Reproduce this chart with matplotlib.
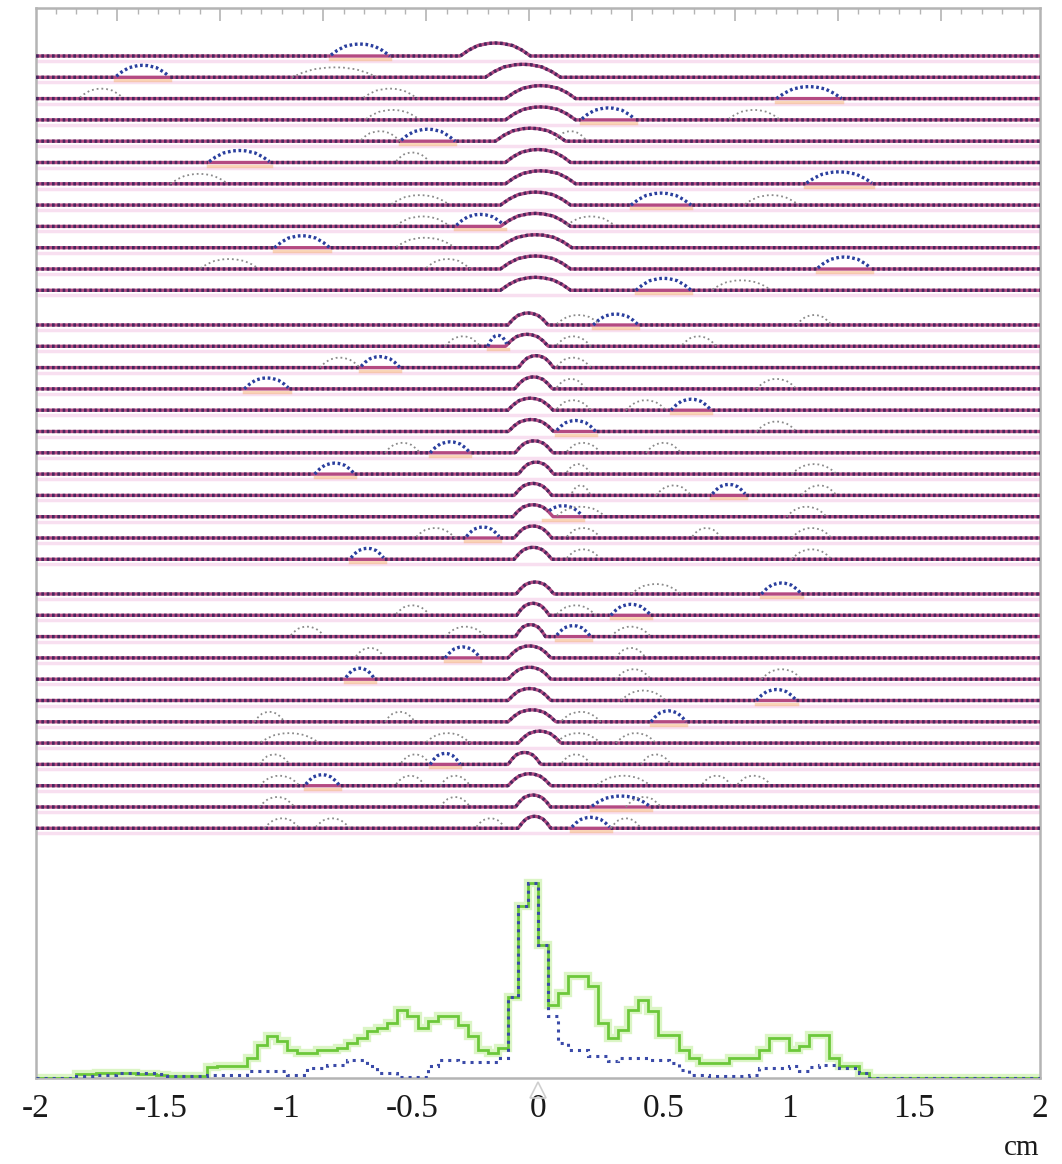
"""
Event display: stacked per-event strip traces (top) with summed hit
histograms along x (bottom).
"""
import numpy as np
import matplotlib
matplotlib.use("Agg")
import matplotlib.pyplot as plt

RED = "#b44a82"
NAVY = "#46285f"
BLUE = "#2a3f9e"
GREY = "#8a8a8a"
PINK = "#f8dff0"
GREEN = "#6cc83a"
GREEN_GLOW = "#cdf2ad"
HIST_BLUE = "#3a4aa8"
FRAME = "#b4b4b4"
SERIF = ["Liberation Serif", "DejaVu Serif"]

# ── bottom histograms (bins of 0.04 cm from -2 to 2) ─────────────────────────
BIN_LO, BIN_WIDTH = -2.0, 0.04
green_counts = [0, 0, 0, 0, 4, 4, 5, 5, 5, 5, 4, 4, 3, 2, 2, 2, 2, 11, 12, 12,
                12, 20, 33, 42, 37, 28, 25, 25, 28, 28, 30, 35, 40, 47, 50, 55, 68, 62, 50, 57,
                62, 62, 53, 42, 28, 25, 30, 81, 172, 195, 133, 73, 85, 102, 102, 92, 55, 40, 48, 68,
                78, 67, 43, 43, 28, 20, 15, 15, 15, 20, 20, 20, 28, 40, 40, 28, 32, 43, 43, 20,
                12, 12, 5, 0, 0, 0, 0, 0, 0, 0, 0, 0, 0, 0, 0, 0, 0, 0, 0, 0]
blue_counts = [0, 0, 0, 0, 2, 2, 3, 3, 5, 5, 5, 5, 4, 2, 2, 2, 2, 3, 3, 3,
               3, 7, 7, 7, 7, 3, 3, 10, 10, 13, 13, 18, 18, 12, 5, 5, 1, 1, 1, 12,
               18, 18, 16, 16, 16, 16, 20, 81, 172, 195, 133, 62, 35, 28, 28, 22, 22, 17, 20, 20,
               20, 18, 18, 15, 8, 3, 3, 2, 2, 2, 2, 3, 10, 10, 10, 12, 7, 11, 13, 13,
               10, 10, 5, 0, 0, 0, 0, 0, 0, 0, 0, 0, 0, 0, 0, 0, 0, 0, 0, 0]

# ── event rows: central cluster (centre, width) in cm ────────────────────────
central_c = [-0.17, -0.06, 0.01, 0.01, -0.03, 0.0, 0.01, -0.01, -0.01, -0.01, -0.01, -0.01,
             -0.04, -0.044, -0.008, -0.018, -0.03, -0.028, -0.016, -0.008, -0.02, -0.02, -0.02, -0.02,
             -0.012, -0.02, -0.03, -0.034, -0.034, -0.034, -0.024, 0.006, -0.054, -0.034, -0.02, -0.014]
central_w = [0.28, 0.30, 0.28, 0.28, 0.28, 0.26, 0.28, 0.28, 0.28, 0.29, 0.28, 0.28,
             0.16, 0.17, 0.14, 0.15, 0.18, 0.18, 0.15, 0.14, 0.15, 0.16, 0.15, 0.15,
             0.15, 0.13, 0.12, 0.17, 0.17, 0.17, 0.19, 0.17, 0.13, 0.17, 0.14, 0.13]

# reconstructed extra hits (blue dashed)
blue_hits = [[(-0.71, 0.24)], [(-1.575, 0.22)], [(1.08, 0.26)], [(0.28, 0.22)],
             [(-0.44, 0.22)], [(-1.19, 0.25)], [(1.20, 0.27)], [(0.49, 0.24)],
             [(-0.23, 0.20)], [(-0.94, 0.22)], [(1.22, 0.22)], [(0.50, 0.22)],
             [(0.31, 0.18)], [(-0.16, 0.08)], [(-0.63, 0.16)], [(-1.08, 0.18)],
             [(0.61, 0.16)], [(0.15, 0.16)], [(-0.35, 0.16)], [(-0.81, 0.16)],
             [(0.76, 0.14)], [(0.10, 0.16)], [(-0.22, 0.14)], [(-0.68, 0.14)],
             [(0.97, 0.16)], [(0.37, 0.16)], [(0.14, 0.14)], [(-0.30, 0.14)],
             [(-0.71, 0.12)], [(0.95, 0.16)], [(0.52, 0.14)], [],
             [(-0.37, 0.12)], [(-0.86, 0.14)], [(0.33, 0.24)], [(0.21, 0.16)]]

# noise / secondary hits (grey dotted)
grey_hits = [[], [(-0.81, 0.34)], [(-1.74, 0.18), (-0.59, 0.22)], [(-0.58, 0.22), (0.86, 0.21)],
             [(-0.63, 0.16), (0.13, 0.13)], [(-0.50, 0.14)], [(-1.35, 0.23)],
             [(-0.47, 0.24), (0.93, 0.22)], [(-0.46, 0.22), (0.21, 0.20)], [(-0.45, 0.24)],
             [(-1.23, 0.24), (-0.36, 0.18)], [(0.81, 0.24)],
             [(0.16, 0.18), (1.10, 0.14)], [(-0.30, 0.14), (0.14, 0.14), (0.64, 0.14)],
             [(-0.79, 0.16), (0.14, 0.14)], [(0.13, 0.12), (0.95, 0.16)],
             [(0.14, 0.14), (0.43, 0.16)], [(0.95, 0.16)],
             [(-0.54, 0.14), (0.18, 0.14), (0.50, 0.14)], [(0.16, 0.10), (1.10, 0.18)],
             [(0.17, 0.08), (0.54, 0.14), (1.12, 0.14)], [(0.17, 0.20), (1.07, 0.16)],
             [(-0.41, 0.16), (0.18, 0.14), (0.67, 0.12), (1.09, 0.16)], [(0.18, 0.14), (1.09, 0.16)],
             [(0.47, 0.20)], [(-0.50, 0.14), (0.15, 0.16)],
             [(-0.92, 0.14), (-0.29, 0.16), (0.37, 0.16)], [(-0.67, 0.12), (0.37, 0.12)],
             [(0.38, 0.14), (0.97, 0.16)], [(0.42, 0.18)],
             [(-1.07, 0.12), (-0.55, 0.12), (0.17, 0.16)],
             [(-0.99, 0.24), (-0.36, 0.18), (0.16, 0.18), (0.39, 0.16)],
             [(-1.05, 0.12), (-0.49, 0.12), (0.15, 0.12), (0.47, 0.12)],
             [(-1.03, 0.16), (-0.51, 0.12), (-0.33, 0.12), (0.34, 0.22), (0.71, 0.12), (0.86, 0.14)],
             [(-1.04, 0.14), (-0.33, 0.12), (0.42, 0.14)],
             [(-1.02, 0.14), (-0.82, 0.14), (-0.19, 0.12), (0.35, 0.12)]]

XTICKS = [-2, -1.5, -1, -0.5, 0, 0.5, 1, 1.5, 2]
XTICK_LABELS = ["-2", "-1.5", "-1", "-0.5", "0", "0.5", "1", "1.5", "2"]

# ── layout (y in pixel-like units above the histogram baseline) ──────────────
ROWS_PER_GROUP = 12
ROW_TOP = 1022       # baseline of first row
ROW_STEP = 21.3
GROUP_GAP = 13.4
PEAK_H = [13, 12, 12]    # central cluster height per group
BLUE_H = [12, 11, 11]
GREY_H = 10
# arch shape used for every pulse
PROF_X = [0, 0.12, 0.25, 0.4, 0.5, 0.6, 0.75, 0.88, 1.0]
PROF_Y = [0, 0.45, 0.8, 0.97, 1.0, 0.97, 0.8, 0.45, 0]
DASH = (0, (0.8, 0.8))

xg = np.linspace(-2, 2, 801)


def pulses(hits, h):
    y = np.zeros_like(xg)
    for c, w in hits:
        u = (xg - (c - w / 2)) / w
        y = np.maximum(y, h * np.interp(u, PROF_X, PROF_Y, left=0, right=0))
    return y


fig = plt.figure(figsize=(10.62, 11.64), dpi=100)
fig.patch.set_facecolor("white")
ax = fig.add_axes([36 / 1062, 86 / 1164, 1004 / 1062, 1070 / 1164])

for i in range(len(central_c)):
    g = i // ROWS_PER_GROUP
    base = ROW_TOP - ROW_STEP * i - GROUP_GAP * g
    core = pulses([(central_c[i], central_w[i])], PEAK_H[g])
    extra = pulses(blue_hits[i], BLUE_H[g])
    noise = pulses(grey_hits[i], GREY_H)
    recon = np.maximum(core, extra)
    on_extra = extra > core

    ax.plot(xg, np.full_like(xg, base - 5), color=PINK, lw=2.5, zorder=1)
    for c, w in blue_hits[i]:
        ax.plot([c - w / 2, c + w / 2], [base - 3, base - 3], color="#f6b070",
                lw=2.5, alpha=0.5, zorder=2)
    ax.plot(xg, base + core, color=RED, lw=2.4, zorder=3)
    ax.plot(xg, np.where(on_extra, np.nan, base + recon), color=NAVY, lw=2.4,
            linestyle=DASH, zorder=4)
    ax.plot(xg, np.where(on_extra, base + recon, np.nan), color=BLUE, lw=2.4,
            linestyle=DASH, zorder=5)
    ax.plot(xg, np.where(noise > 0, base + noise, np.nan), color=GREY, lw=1.3,
            linestyle=":", zorder=6)

# ── histograms ───────────────────────────────────────────────────────────────
edges = BIN_LO + BIN_WIDTH * np.arange(len(green_counts) + 1)
ax.stairs(green_counts, edges, color=GREEN_GLOW, lw=6, alpha=0.7, zorder=2)
ax.stairs(green_counts, edges, color=GREEN, lw=2.0, zorder=3)
ax.stairs(blue_counts, edges, color=HIST_BLUE, lw=2.2, linestyle=":", zorder=4)

# small marker under x = 0
ax.plot([0], [-12], marker="^", ms=12, mfc="none", mec="#cfcfcf", mew=1.2,
        clip_on=False)

# ── axes styling ─────────────────────────────────────────────────────────────
ax.set_xlim(-2, 2)
ax.set_ylim(0, 1070)
ax.set_yticks([])
ax.set_xticks(XTICKS)
ax.set_xticklabels(XTICK_LABELS, fontsize=24, family=SERIF, color="#1a1a1a")
ax.tick_params(axis="x", length=0, pad=11)
for s in ax.spines.values():
    s.set_color(FRAME)
    s.set_linewidth(1.8)

top = ax.secondary_xaxis("top")
top.set_xticks(-0.036 + 0.41 * np.arange(-4, 5))
top.set_xticks(-0.036 + 0.082 * np.arange(-24, 25), minor=True)
top.set_xticklabels([])
top.tick_params(which="major", direction="in", length=9, width=1.2, color=FRAME)
top.tick_params(which="minor", direction="in", length=4, width=1.0, color=FRAME)
top.spines["top"].set_visible(False)

fig.text(1022 / 1062, 16 / 1164, "cm", fontsize=21, family=SERIF, color="#1a1a1a",
         ha="center", va="center")

plt.savefig("out.png", dpi=100, facecolor="white")
